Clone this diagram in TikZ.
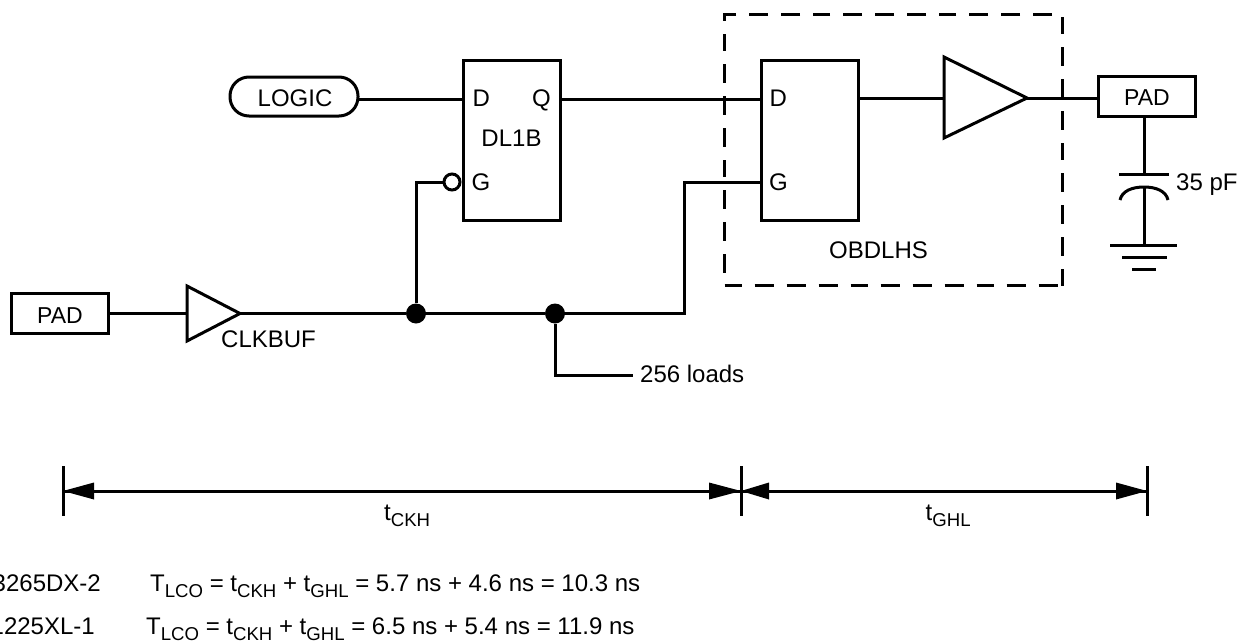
\documentclass[tikz,border=0pt]{standalone}
\usepackage{fontspec}
\setmainfont{Liberation Sans}
\newcommand{\subtxt}[1]{\raisebox{-6pt}{\fontsize{18.6}{22}\selectfont #1}}
\tikzset{
  x=1pt,y=-1pt,
  wire/.style={line width=3pt,line cap=butt,line join=miter},
  boxnode/.style={draw,line width=3pt,inner sep=0pt,fill=none},
  lbl/.style={inner sep=0pt,anchor=base west,font=\fontsize{24}{28}\selectfont},
  ctr/.style={lbl,anchor=base},
  eqn/.style={inner sep=0pt,anchor=base west,font=\fontsize{24}{28}\selectfont},
  dot/.style={circle,fill=black,inner sep=0pt,minimum size=20pt},
  bubble/.style={circle,draw,line width=3pt,fill=white,inner sep=0pt,minimum size=16pt},
  dim/.style={line width=3pt},
  head/.style={fill=black,draw=none},
}
\begin{document}
\begin{tikzpicture}
\useasboundingbox (0,0) rectangle (1242,640);
\clip (0,0) rectangle (1242,640);
% dashed block
\draw[line width=3pt,dash pattern=on 17pt off 13pt on 19pt off 13pt on 19pt off 13pt on 19pt off 13pt] (1062.5,285.5) -- (1062.5,14) -- (724,14) -- (724,285.5) -- cycle;
% boxes
\node[boxnode,minimum width=97pt,minimum height=160pt] (dl) at (512,140) {};
\node[boxnode,minimum width=97pt,minimum height=160pt] (ob) at (809.5,140) {};
\node[boxnode,rounded corners=19pt,minimum width=128pt,minimum height=39pt] (logic) at (294,96.5) {};
\node[boxnode,minimum width=97pt,minimum height=40pt] (padr) at (1146.5,96) {};
\node[boxnode,minimum width=97pt,minimum height=40pt] (padl) at (60,313) {};
% buffers
\coordinate (ba) at (944,57); \coordinate (bb) at (944,138); \coordinate (bc) at (1027,98);
\draw[wire] (ba) -- (bc) -- (bb) -- cycle;
\coordinate (ca) at (187,286); \coordinate (cb) at (187,341); \coordinate (cc) at (240,313.5);
\draw[wire] (ca) -- (cc) -- (cb) -- cycle;
% junctions
\node[dot] (j1) at (416,313.5) {};
\node[dot] (j2) at (555,313.5) {};
\node[bubble] (inv) at (452,182) {};
\coordinate (bin) at (944,98);
\coordinate (cin) at (187,313.5);
\coordinate (g1) at (416,182);
\coordinate (g2a) at (684,313.5);
\coordinate (g2b) at (684,182.5);
\coordinate (load) at (555,375);
\coordinate (loadend) at (633,375);
% connectors
\draw[wire] (358,99) -- (464,99);
\draw[wire] (560,99) -- (761,99);
\draw[wire] (858,98) -- (bin);
\draw[wire] (bc) -- (padr.west |- bc);
\draw[wire] (padl.east |- cin) -- (cin);
\draw[wire] (cc) -- (j1) -- (j2) -- (g2a) -- (g2b) -- (761,182.5);
\draw[wire] (j1) -- (g1) -- (inv.west);
\draw[wire] (j2) -- (load) -- (loadend);
% capacitor and ground
\coordinate (p1) at (1144,174); \coordinate (p2) at (1144,187); \coordinate (gnd) at (1144,245.5);
\draw[wire] (padr.south -| p1) -- (p1);
\draw[wire] (1119,174) -- (1169,174);
\draw[wire] (1120,200) .. controls (1122,191) and (1132,187) .. (1144,187) .. controls (1156,187) and (1166,191) .. (1168,200);
\draw[wire] (p2) -- (gnd);
\draw[wire] (1110,245.5) -- (1177,245.5);
\draw[wire] (1122,257) -- (1167,257);
\draw[wire] (1132,269) -- (1156,269);
% labels
\node[ctr] (tLOGIC) at (295,106) {LOGIC};
\node[ctr,font=\fontsize{23}{27}\selectfont] (tPR) at (1147,105) {PAD};
\node[ctr,font=\fontsize{23}{27}\selectfont] (tPL) at (60,323) {PAD};
\node[lbl] (tD1) at (472.5,106) {D};
\node[lbl,anchor=base east] (tQ1) at (551,106) {Q};
\node[ctr] (tDL) at (511.5,146) {DL1B};
\node[lbl] (tG1) at (471.5,190.5) {G};
\node[lbl] (tD2) at (769.5,106) {D};
\node[lbl] (tG2) at (769,190.5) {G};
\node[ctr] (tOB) at (878.5,258) {OBDLHS};
\node[lbl] (tC) at (1176,190.5) {35 pF};
\node[lbl] (tCK) at (221,347) {CLKBUF};
\node[lbl] (tL) at (640,382) {256 loads};
% dimension lines
\coordinate (d1) at (63,491); \coordinate (d2) at (741,491); \coordinate (d3) at (1147,491);
\draw[dim] (63,466) -- (63,516);
\draw[dim] (741,466) -- (741,516);
\draw[dim] (1147,466) -- (1147,516);
\draw[dim] (d1) -- (d2) -- (d3);
\fill[head] (d1) -- (94,482.5) -- (94,499.5) -- cycle;
\fill[head] (d2) -- (709,482.5) -- (709,499.5) -- cycle;
\fill[head] (d2) -- (769,482.5) -- (769,499.5) -- cycle;
\fill[head] (d3) -- (1116,482.5) -- (1116,499.5) -- cycle;
\node[eqn] (t1) at (384,520) {t\subtxt{CKH}};
\node[eqn] (t2) at (925.5,520) {t\subtxt{GHL}};
% equations
\node[eqn,anchor=base east] (n1) at (101,591) {3265DX-2};
\node[eqn] (e1) at (150,591) {T\subtxt{LCO} = t\subtxt{CKH} + t\subtxt{GHL} = 5.7 ns + 4.6 ns = 10.3 ns};
\node[eqn,anchor=base east] (n2) at (95,634) {1225XL-1};
\node[eqn] (e2) at (146,634) {T\subtxt{LCO} = t\subtxt{CKH} + t\subtxt{GHL} = 6.5 ns + 5.4 ns = 11.9 ns};
\end{tikzpicture}
\end{document}
